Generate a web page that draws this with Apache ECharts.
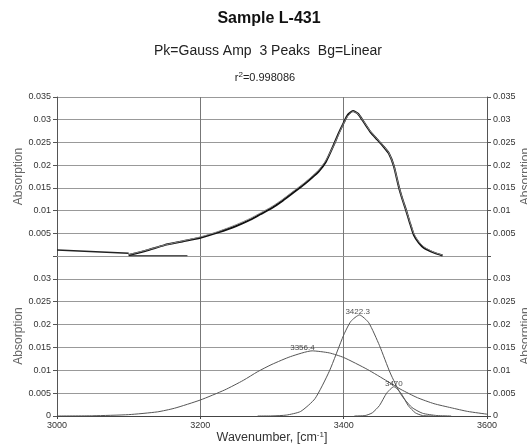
<!DOCTYPE html>
<html>
<head>
<meta charset="utf-8">
<script src="https://cdn.jsdelivr.net/npm/echarts@6/dist/echarts.min.js"></script>
<style>
html,body{margin:0;padding:0;background:#fff;}
#c{width:527px;height:444px;}
</style>
</head>
<body>
<div id="c"></div>
<script>
// ---- data ----
const xTicks = [3000, 3200, 3400, 3600];
const yTicks = [0, 0.005, 0.01, 0.015, 0.02, 0.025, 0.03, 0.035];

// upper panel: measured spectrum and fitted curve
const dataWn  = [3100, 3125, 3150, 3175, 3200, 3225, 3250, 3270, 3284, 3300, 3315, 3330, 3345, 3354, 3365, 3375, 3386, 3393, 3400, 3406, 3413, 3420, 3428, 3437, 3447, 3455, 3463, 3470, 3477, 3482, 3487, 3492, 3498, 3505, 3512, 3525, 3538];
const dataAbs = [0.0002, 0.0012, 0.0024, 0.0032, 0.0040, 0.0052, 0.0066, 0.0080, 0.0092, 0.0106, 0.0122, 0.0140, 0.0158, 0.0170, 0.0186, 0.0207, 0.0244, 0.0270, 0.0293, 0.0311, 0.0319, 0.0313, 0.0295, 0.0274, 0.0256, 0.0242, 0.0226, 0.0198, 0.0152, 0.0125, 0.0101, 0.0075, 0.0046, 0.0029, 0.0018, 0.0008, 0.0001];
const fitAbs  = [0.0003, 0.0013, 0.0024, 0.0033, 0.0042, 0.0054, 0.0069, 0.0083, 0.0095, 0.0109, 0.0125, 0.0143, 0.0161, 0.0173, 0.0189, 0.0210, 0.0243, 0.0268, 0.0292, 0.0309, 0.0318, 0.0313, 0.0296, 0.0275, 0.0257, 0.0243, 0.0227, 0.0199, 0.0153, 0.0126, 0.0102, 0.0077, 0.0049, 0.0031, 0.0020, 0.0009, 0.0002];
const bgWn    = [3000, 3100];
const bgAbs   = [0.0013, 0.0006];
const baseWn  = [3100, 3182];
const baseAbs = [0.00005, 0.00005];

// lower panel: individual Gaussian peaks
const peak1Wn  = [3000, 3050, 3100, 3140, 3164, 3200, 3234, 3260, 3280, 3300, 3326, 3356, 3380, 3400, 3433, 3461, 3480, 3503, 3526, 3550, 3573, 3600];
const peak1Abs = [0.0000, 0.00005, 0.0003, 0.0009, 0.0017, 0.0035, 0.0057, 0.0078, 0.0097, 0.0113, 0.0130, 0.01425, 0.0138, 0.0128, 0.0102, 0.0076, 0.0058, 0.0040, 0.0027, 0.0018, 0.0010, 0.0004];
const peak2Wn  = [3280, 3300, 3320, 3340, 3360, 3380, 3400, 3410, 3422, 3435, 3450, 3465, 3480, 3495, 3510, 3530, 3550];
const peak2Abs = [0.0000, 0.00002, 0.0002, 0.0010, 0.0038, 0.0098, 0.0177, 0.0207, 0.0221, 0.0204, 0.0154, 0.0094, 0.0047, 0.0019, 0.0006, 0.0001, 0.0000];
const peak3Wn  = [3415, 3430, 3440, 3450, 3460, 3470, 3480, 3490, 3500, 3510, 3525];
const peak3Abs = [0.0000, 0.0001, 0.0007, 0.0023, 0.0050, 0.0064, 0.0050, 0.0023, 0.0007, 0.0001, 0.0000];

const peakCenters = [3356.4, 3422.3, 3470];
const peakHeights = [0.01425, 0.0221, 0.0064];
const peakNames   = ['3356.4', '3422.3', '3470'];

// ---- build chart ----
const zip = (a, b) => a.map((v, i) => [v, b[i]]);
const FONT = 'Liberation Sans, Arial, Helvetica, sans-serif';
const fmt = v => String(+v.toFixed(3));

const chart = echarts.init(document.getElementById('c'), null, {renderer: 'canvas'});

function yAxisDef(gridIndex, pos, hideVal) {
  return {
    type: 'value', gridIndex: gridIndex, position: pos,
    min: 0, max: 0.035, interval: 0.005,
    name: 'Absorption', nameLocation: 'middle', nameRotate: 90,
    nameGap: pos === 'left' ? 32 : 33, nameMoveOverlap: false,
    nameTextStyle: {fontFamily: FONT, fontSize: 12, color: '#666'},
    axisLine: {show: true, lineStyle: {color: '#555', width: 1}},
    axisTick: {show: true, length: 4, lineStyle: {color: '#555'}},
    axisLabel: {fontFamily: FONT, fontSize: 9, color: '#333', margin: 6,
      formatter: v => (Math.abs(v - hideVal) < 1e-9 ? '' : fmt(v))},
    splitLine: {show: pos === 'left', lineStyle: {color: '#999', width: 1}}
  };
}

const lineS = (name, xi, yi, data, color, width, z) => ({
  name: name, type: 'line', xAxisIndex: xi, yAxisIndex: yi, data: data,
  showSymbol: false, smooth: 0.2, lineStyle: {color: color, width: width}, z: z || 2,
  silent: true, animation: false
});

const option = {
  animation: false,
  backgroundColor: '#fff',
  graphic: [
    {type: 'text', x: 269, y: 11, style: {text: 'Sample L-431', textAlign: 'center', fontFamily: FONT, fontSize: 16, fontWeight: 'bold', fill: '#111'}},
    {type: 'text', x: 268, y: 44, style: {text: 'Pk=Gauss Amp  3 Peaks  Bg=Linear', textAlign: 'center', fontFamily: FONT, fontSize: 14, fill: '#222'}},
    {type: 'text', x: 265, y: 71, style: {text: '{a|r}{s|2}{a|=0.998086}', textAlign: 'center', fontFamily: FONT, fontSize: 11, fill: '#222',
      rich: {a: {fontFamily: FONT, fontSize: 11, fill: '#222', verticalAlign: 'bottom'}, s: {fontFamily: FONT, fontSize: 8, fill: '#222', verticalAlign: 'top', padding: [0, 0, 4, 0]}}}}
  ],
  grid: [
    {left: 57, right: 40, top: 97, height: 159, containLabel: false, outerBoundsMode: 'none'},
    {left: 57, right: 40, top: 256, height: 160, containLabel: false, outerBoundsMode: 'none'}
  ],
  xAxis: [
    {type: 'value', gridIndex: 0, min: 3000, max: 3600, interval: 200,
     axisLine: {show: true, onZero: false, lineStyle: {color: '#999'}},
     axisTick: {show: false}, axisLabel: {show: false},
     splitLine: {show: true, lineStyle: {color: '#777'}}},
    {type: 'value', gridIndex: 1, min: 3000, max: 3600, interval: 200,
     name: '{a|Wavenumber, [cm}{s|-1}{a|]}', nameLocation: 'middle', nameGap: 15, nameMoveOverlap: false,
     nameTextStyle: {fontFamily: FONT, fontSize: 12.5, color: '#333',
       rich: {a: {fontFamily: FONT, fontSize: 12.5, color: '#333'}, s: {fontFamily: FONT, fontSize: 8, color: '#333', verticalAlign: 'top', padding: [0, 0, 6, 0]}}},
     axisLine: {show: true, onZero: false, lineStyle: {color: '#444'}},
     axisTick: {show: true, length: 3, lineStyle: {color: '#444'}},
     axisLabel: {fontFamily: FONT, fontSize: 9, color: '#333', margin: 5,
       formatter: v => (xTicks.indexOf(v) >= 0 ? String(v) : '')},
     splitLine: {show: true, lineStyle: {color: '#777'}}}
  ],
  yAxis: [
    yAxisDef(0, 'left', 0),
    yAxisDef(0, 'right', 0),
    yAxisDef(1, 'left', 0.035),
    yAxisDef(1, 'right', 0.035)
  ],
  series: [
    lineS('background', 0, 0, zip(bgWn, bgAbs), '#222', 1.5, 3),
    lineS('baseline', 0, 0, zip(baseWn, baseAbs), '#555', 1.5, 3),
    lineS('data', 0, 0, zip(dataWn, dataAbs), '#111', 2, 3),
    lineS('fit', 0, 0, zip(dataWn, fitAbs), '#888', 1, 4),
    lineS('peak1', 1, 2, zip(peak1Wn, peak1Abs), '#555', 1, 3),
    lineS('peak2', 1, 2, zip(peak2Wn, peak2Abs), '#555', 1, 3),
    lineS('peak3', 1, 2, zip(peak3Wn, peak3Abs), '#555', 1, 3),
    {
      name: 'peakLabels', type: 'scatter', xAxisIndex: 1, yAxisIndex: 2,
      symbolSize: 0, silent: true, z: 5,
      data: peakCenters.map((c, i) => ({
        value: [c, peakHeights[i]],
        label: {show: true, formatter: peakNames[i], position: 'top', distance: 0,
          offset: i === 0 ? [-10, 1] : (i === 1 ? [-2, 1] : [0, 1]),
          fontFamily: FONT, fontSize: 8, color: '#222'}
      }))
    }
  ]
};
chart.setOption(option);
</script>
</body>
</html>
